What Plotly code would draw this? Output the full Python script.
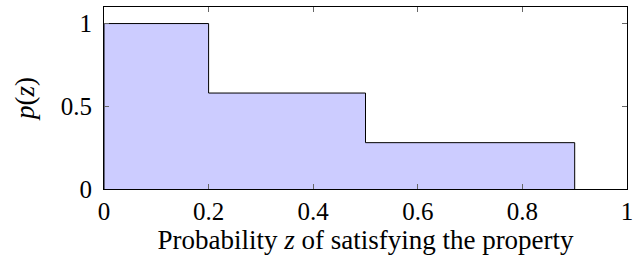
import plotly.graph_objects as go

# Data
bin_edges = [0.0, 0.2, 0.5, 0.9]
heights = [1.0, 0.58, 0.28]
x_ticks = [0, 0.2, 0.4, 0.6, 0.8, 1]
y_ticks = [0, 0.5, 1]

# build step outline from edges/heights
xs = [bin_edges[0]]
ys = [0.0]
for i, h in enumerate(heights):
    xs.append(bin_edges[i])
    ys.append(h)
xs.append(bin_edges[-1])
ys.append(heights[-1])
xs.append(bin_edges[-1])
ys.append(0.0)

fig = go.Figure()
fig.add_trace(go.Scatter(
    x=xs, y=ys, mode="lines", line=dict(shape="hv", color="black", width=1),
    fill="tozeroy", fillcolor="rgb(204,204,255)", showlegend=False, hoverinfo="skip"
))

font_family = "Liberation Serif"
fig.update_layout(
    width=644, height=263,
    margin=dict(l=104, r=17, t=7, b=74),
    plot_bgcolor="white", paper_bgcolor="white",
    font=dict(family=font_family, size=25, color="black"),
)
fig.update_xaxes(
    range=[0, 1], tickvals=x_ticks, ticktext=[str(v) for v in x_ticks],
    ticks="inside", ticklen=5, tickcolor="#666", tickwidth=1,
    showline=True, linecolor="black", linewidth=1, mirror="ticks",
    showgrid=False, zeroline=False, layer="above traces",
    tickfont=dict(family=font_family, size=25),
    title=dict(text="Probability <i>z</i> of satisfying the property", standoff=2,
               font=dict(family=font_family, size=27)),
)
fig.update_yaxes(
    range=[0, 1.1], tickvals=y_ticks, ticktext=[str(v) for v in y_ticks],
    ticks="inside", ticklen=5, tickcolor="#666", tickwidth=1,
    showline=True, linecolor="black", linewidth=1, mirror="ticks",
    showgrid=False, zeroline=False, layer="above traces",
    tickfont=dict(family=font_family, size=25), ticklabelstandoff=6,
    title=dict(text="<i>p</i>(<i>z</i>)", standoff=18, font=dict(family=font_family, size=27)),
)
fig.write_html("out.html", post_script="document.body.style.margin='0';",
               config={"displayModeBar": False})
